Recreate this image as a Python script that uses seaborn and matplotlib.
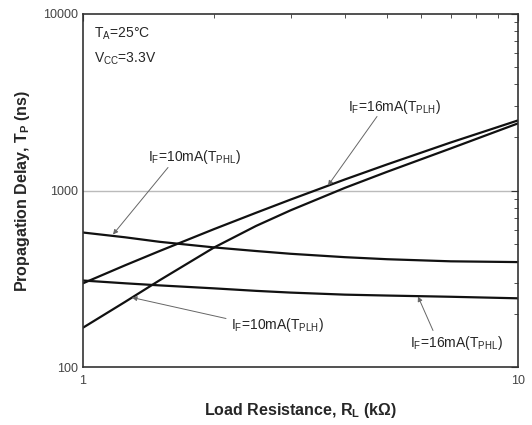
import numpy as np
import pandas as pd
import matplotlib
matplotlib.use('Agg')
import matplotlib.pyplot as plt
from matplotlib.ticker import LogLocator, NullFormatter, FixedLocator, FixedFormatter
import seaborn as sns

# values (R in kOhm, delay in ns)
r_load = [1, 1.25, 1.5, 2, 2.5, 3, 4, 5, 7, 10]
tphl_10ma = [578, 543, 512, 476, 454, 438, 419, 408, 397, 393]
tphl_16ma = [309, 298, 290, 279, 270, 264, 257, 254, 250, 245]
tplh_16ma = [298, 377, 454, 604, 748, 888, 1155, 1405, 1870, 2495]
tplh_10ma = [167, 234, 310, 475, 630, 772, 1035, 1276, 1730, 2400]

frames = []
for name, vals in [('tphl10', tphl_10ma), ('tphl16', tphl_16ma),
                   ('tplh16', tplh_16ma), ('tplh10', tplh_10ma)]:
    frames.append(pd.DataFrame({'R': r_load, 'T': vals, 'curve': name}))
df = pd.concat(frames, ignore_index=True)

sns.set_style('white')
plt.rcParams['font.family'] = ['Liberation Sans', 'DejaVu Sans']
plt.rcParams['mathtext.default'] = 'regular'


def px2data(x, y):
    # convert reference pixel position to data coords
    return 10 ** ((x - 83) / 435.0), 10 ** (3 - (y - 190) / 176.5)


fig = plt.figure(figsize=(5.32, 4.25), dpi=100)
ax = fig.add_axes([83 / 532, 58 / 425, 435 / 532, 353 / 425])

sns.lineplot(data=df, x='R', y='T', units='curve', estimator=None,
             color='#111111', linewidth=1.6, ax=ax, legend=False)

ax.set_xscale('log')
ax.set_yscale('log')
ax.set_xlim(1, 10)
ax.set_ylim(100, 10000)
ax.axhline(1000, color='#bbbbbb', linewidth=1.0, zorder=0)

ax.yaxis.set_major_locator(FixedLocator([100, 1000, 10000]))
ax.yaxis.set_major_formatter(FixedFormatter(['100', '1000', '10000']))
ax.yaxis.set_minor_locator(LogLocator(base=10, subs=np.arange(2, 10)))
ax.yaxis.set_minor_formatter(NullFormatter())
ax.xaxis.set_major_locator(FixedLocator([1, 10]))
ax.xaxis.set_major_formatter(FixedFormatter(['1', '10']))
ax.xaxis.set_minor_locator(LogLocator(base=10, subs=np.arange(2, 10)))
ax.xaxis.set_minor_formatter(NullFormatter())
ax.tick_params(which='both', direction='in', top=True, right=True,
               labelsize=9, labelcolor='#444444', color='#333333')
ax.tick_params(which='major', length=5)
ax.tick_params(which='minor', length=3)
ax.tick_params(axis='x', pad=6)
for s in ax.spines.values():
    s.set_color('#333333')
    s.set_linewidth(1.2)

ax.set_xlabel('Load Resistance, R$_L$ (k\u03a9)', fontsize=11.5,
              fontweight='bold', labelpad=10)
ax.set_ylabel('Propagation Delay, T$_P$ (ns)', fontsize=11.5,
              fontweight='bold', labelpad=8)

ax.text(*px2data(94, 33), 'T$_A$=25\u00b0C', fontsize=10, va='center', ha='left')
ax.text(*px2data(94, 58), 'V$_{CC}$=3.3V', fontsize=10, va='center', ha='left')

arrow = dict(arrowstyle='-|>', color='#666666', lw=0.7,
             mutation_scale=7, shrinkA=0, shrinkB=0)
labels = [
    ('I$_F$=10mA(T$_{PHL}$)', (194, 156), (168, 167), (113, 234)),
    ('I$_F$=16mA(T$_{PLH}$)', (394, 106), (377, 116), (328, 185)),
    ('I$_F$=10mA(T$_{PLH}$)', (277, 325), (226, 318), (132, 297)),
    ('I$_F$=16mA(T$_{PHL}$)', (456, 343), (433, 330), (418, 296)),
]
for txt, tpos, start, tip in labels:
    ax.text(*px2data(*tpos), txt, fontsize=10, ha='center', va='center')
    ax.annotate('', xy=px2data(*tip), xytext=px2data(*start),
                arrowprops=arrow)

fig.savefig('out.png', dpi=100)
